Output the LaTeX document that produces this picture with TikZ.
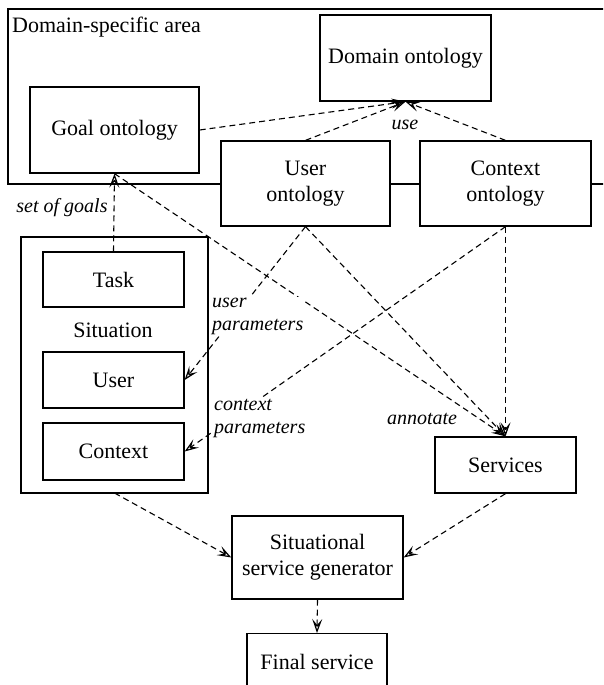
\documentclass[tikz,border=0pt]{standalone}
\usepackage{fontspec}
\setmainfont{Liberation Serif}
\newfontfamily\tms{Liberation Serif}
\usetikzlibrary{arrows.meta}
\begin{document}
\begin{tikzpicture}[x=1pt,y=-1pt,
  box/.style={draw,line width=1.3pt,fill=white,align=center,inner sep=0pt,font=\tms\fontsize{22}{26}\selectfont},
  dep/.style={dashed,dash pattern=on 6pt off 4pt,line width=1.1pt,-{Stealth[open,length=14pt,width=10pt,inset=6pt,line width=1.2pt]}},
  lbl/.style={font=\tms\fontsize{20}{23}\selectfont\itshape,fill=white,inner sep=1pt,align=left}
]
\useasboundingbox (0,0) rectangle (603,685);
\clip (0,0) rectangle (603,685);
% domain-specific area
\draw[line width=1.3pt] (620,184) -- (8,184) -- (8,9) -- (620,9);
\node[anchor=north west,inner sep=0pt,font=\tms\fontsize{22}{26}\selectfont] (area) at (12,17) {Domain-specific area};
% situation container
\draw[line width=1.3pt] (21,237) rectangle (208,493);
\coordinate (sitS) at (114.5,493);
\node[font=\tms\fontsize{22}{26}\selectfont] (sitlbl) at (113,330) {Situation};
% nodes
\node[box,minimum width=171pt,minimum height=86pt] (dom) at (405.5,58) {Domain ontology};
\node[box,minimum width=169pt,minimum height=86pt] (goal) at (114.5,130) {Goal ontology};
\node[box,minimum width=169pt,minimum height=85pt] (user) at (305.5,183.5) {User\\ontology};
\node[box,minimum width=171pt,minimum height=85pt] (ctx) at (505.5,183.5) {Context\\ontology};
\node[box,minimum width=141pt,minimum height=55pt] (task) at (113.5,279.5) {Task};
\node[box,minimum width=141pt,minimum height=56pt] (usr) at (113.5,380) {User};
\node[box,minimum width=141pt,minimum height=57pt] (con) at (113.5,451.5) {Context};
\node[box,minimum width=141pt,minimum height=56pt] (serv) at (505.5,465) {Services};
\node[box,minimum width=171pt,minimum height=83pt] (gen) at (317.5,557.5) {Situational\\service generator};
\node[box,minimum width=140pt,minimum height=80pt,anchor=north] (fin) at (317,633) {};
\node[font=\tms\fontsize{22}{26}\selectfont] (fintxt) at (317,662) {Final service};
% connectors
\draw[dep] (goal.east) -- (dom.south);
\draw[dep] (user.north) -- (dom.south);
\draw[dep] (ctx.north) -- (dom.south);
\draw[dep] (task.north) -- (goal.south);
\draw[dep] (goal.south) -- (serv.north);
\draw[dep] (user.south) -- (serv.north);
\draw[dep] (ctx.south) -- (serv.north);
\draw[dep] (user.south) -- (usr.east);
\draw[dep] (ctx.south) -- (con.east);
\draw[dep] (sitS) -- (gen.west);
\draw[dep] (serv.south) -- (gen.east);
\draw[dep] (gen.south) -- (fin.north);
% labels
\node[lbl,fill=none] (use) at (405,125) {use};
\node[lbl] (sog) at (62,208) {set of goals};
\node[lbl,anchor=west] (upar) at (211,316) {user\\parameters};
\node[lbl,anchor=west] (cpar) at (213,418) {context\\parameters};
\node[lbl,fill=none] (ann) at (422,419) {annotate};
\end{tikzpicture}
\end{document}
